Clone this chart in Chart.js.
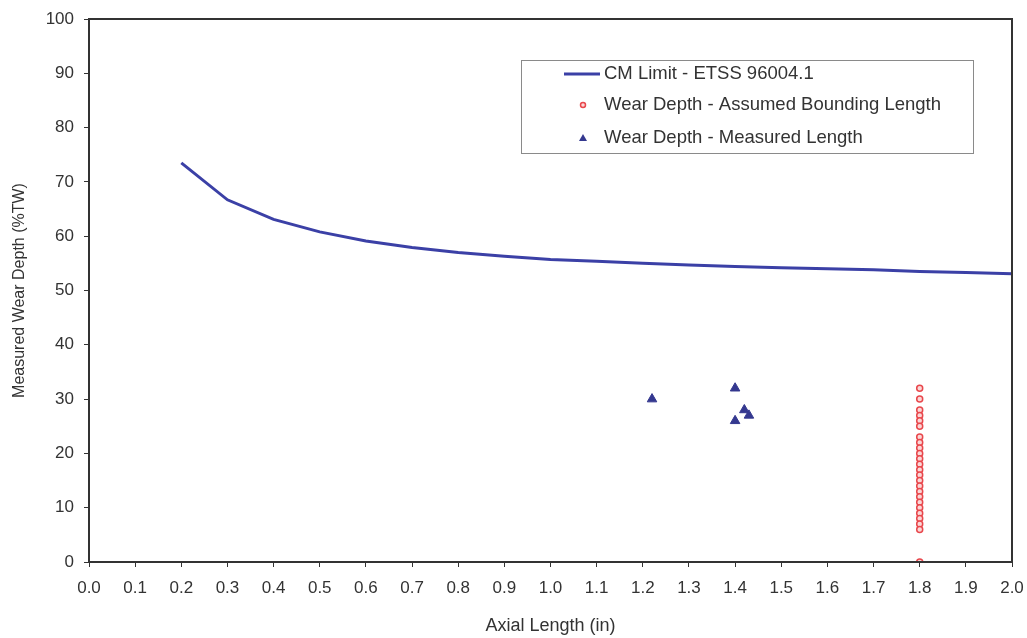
<!DOCTYPE html>
<html lang="en">
<head>
  <meta charset="UTF-8" />
  <title>CM Limit vs Wear Depth</title>
  <script src="https://cdn.jsdelivr.net/npm/chart.js"></script>
  <style>
    html, body { margin: 0; padding: 0; background: #fff; }
    #wrap { width: 1027px; height: 638px; }
  </style>
</head>
<body>
  <div id="wrap"><canvas id="chart"></canvas></div>

  <script>
    // CM limit curve
    const limitX = [0.2, 0.3, 0.4, 0.5, 0.6, 0.7, 0.8, 0.9, 1.0, 1.1, 1.2, 1.3, 1.4, 1.5, 1.6, 1.7, 1.8, 1.9, 2.0];
    const limitY = [73.5, 66.7, 63.1, 60.8, 59.1, 57.9, 57.0, 56.3, 55.7, 55.4, 55.0, 54.7, 54.4, 54.2, 54.0, 53.8, 53.5, 53.3, 53.1];

    // wear depth at assumed bounding length (all at 1.8 in)
    const boundX = 1.8;
    const boundY = [32, 30, 28, 27, 26, 25, 23, 22, 21, 20, 19, 18, 17, 16, 15, 14, 13, 12, 11, 10, 9, 8, 7, 6, 0];

    // wear depth at measured length
    const measX = [1.22, 1.40, 1.42, 1.43, 1.40];
    const measY = [30, 32, 28, 27, 26];

    const legendLabels = ['CM Limit - ETSS 96004.1', 'Wear Depth - Assumed Bounding Length', 'Wear Depth - Measured Length'];

    const lineColor = '#3b40a6';
    const redColor = '#e8474c';
    const triColor = '#34388f';
    const textColor = '#333333';
    const fontFam = '"Liberation Sans", Arial, sans-serif';

    // box around plot + legend drawn inside the plot area
    const boxAndLegend = {
      id: 'boxAndLegend',
      afterDraw(chart) {
        const ctx = chart.ctx;
        const a = chart.chartArea;
        ctx.save();
        ctx.strokeStyle = '#333';
        ctx.lineWidth = 2;
        ctx.strokeRect(a.left, a.top, a.right - a.left, a.bottom - a.top);

        // legend box
        const lx = a.left + 432, ly = a.top + 41, lw = 452, lh = 93;
        ctx.fillStyle = '#fff';
        ctx.fillRect(lx, ly, lw, lh);
        ctx.strokeStyle = '#8a8a8a';
        ctx.lineWidth = 1;
        ctx.strokeRect(lx + 0.5, ly + 0.5, lw, lh);

        ctx.font = '18.5px ' + fontFam;
        ctx.fillStyle = textColor;
        ctx.textBaseline = 'middle';
        const rows = [ly + 14, ly + 45, ly + 78];
        const mx = lx + 62;

        ctx.strokeStyle = lineColor;
        ctx.lineWidth = 3;
        ctx.beginPath();
        ctx.moveTo(lx + 43, rows[0]);
        ctx.lineTo(lx + 79, rows[0]);
        ctx.stroke();

        ctx.strokeStyle = redColor;
        ctx.fillStyle = '#fbd7d7';
        ctx.lineWidth = 1.5;
        ctx.beginPath();
        ctx.arc(mx, rows[1], 2.5, 0, Math.PI * 2);
        ctx.fill();
        ctx.stroke();

        ctx.fillStyle = triColor;
        ctx.beginPath();
        ctx.moveTo(mx, rows[2] - 4);
        ctx.lineTo(mx + 4, rows[2] + 3);
        ctx.lineTo(mx - 4, rows[2] + 3);
        ctx.closePath();
        ctx.fill();

        ctx.fillStyle = textColor;
        ctx.fillText(legendLabels[0], lx + 83, rows[0]);
        ctx.fillText(legendLabels[1], lx + 83, rows[1]);
        ctx.fillText(legendLabels[2], lx + 83, rows[2]);
        ctx.restore();
      }
    };

    const config = {
      type: 'scatter',
      data: {
        datasets: [
          {
            label: legendLabels[0],
            type: 'line',
            data: limitX.map((x, i) => ({ x: x, y: limitY[i] })),
            borderColor: lineColor,
            borderWidth: 3,
            pointRadius: 0,
            fill: false,
            tension: 0
          },
          {
            label: legendLabels[1],
            data: boundY.map(y => ({ x: boundX, y: y })),
            pointStyle: 'circle',
            pointRadius: 3,
            borderColor: redColor,
            borderWidth: 1.5,
            backgroundColor: '#fbd7d7'
          },
          {
            label: legendLabels[2],
            data: measX.map((x, i) => ({ x: x, y: measY[i] })),
            pointStyle: 'triangle',
            pointRadius: 5.5,
            borderColor: triColor,
            borderWidth: 1,
            backgroundColor: triColor
          }
        ]
      },
      options: {
        responsive: true,
        maintainAspectRatio: false,
        animation: false,
        layout: { padding: { left: 0, right: 15, top: 19, bottom: 0 } },
        plugins: {
          legend: { display: false },
          tooltip: { enabled: false }
        },
        scales: {
          x: {
            type: 'linear',
            min: 0,
            max: 2,
            grid: { drawOnChartArea: false, drawTicks: true, tickLength: 5, color: '#333' },
            border: { display: true, color: '#333', width: 2 },
            ticks: {
              stepSize: 0.1,
              color: textColor,
              font: { size: 17, family: fontFam },
              padding: 11,
              maxRotation: 0,
              autoSkip: false,
              callback: v => v.toFixed(1)
            },
            title: {
              display: true,
              text: 'Axial Length (in)',
              color: textColor,
              font: { size: 18, family: fontFam },
              padding: { top: 10, bottom: 1 }
            },
            afterFit: s => { s.height = 76; s.paddingRight = 0; s.paddingLeft = 0; }
          },
          y: {
            min: 0,
            max: 100,
            grid: { drawOnChartArea: false, drawTicks: true, tickLength: 5, color: '#333' },
            border: { display: true, color: '#333', width: 2 },
            ticks: {
              stepSize: 10,
              color: textColor,
              font: { size: 17, family: fontFam },
              padding: 10
            },
            title: {
              display: true,
              text: 'Measured Wear Depth (%TW)',
              color: textColor,
              font: { size: 16, family: fontFam },
              padding: { top: 10, bottom: 0 }
            },
            afterFit: s => { s.width = 89; s.paddingTop = 0; s.paddingBottom = 0; }
          }
        }
      },
      plugins: [boxAndLegend]
    };

    new Chart(document.getElementById('chart'), config);
  </script>
</body>
</html>
